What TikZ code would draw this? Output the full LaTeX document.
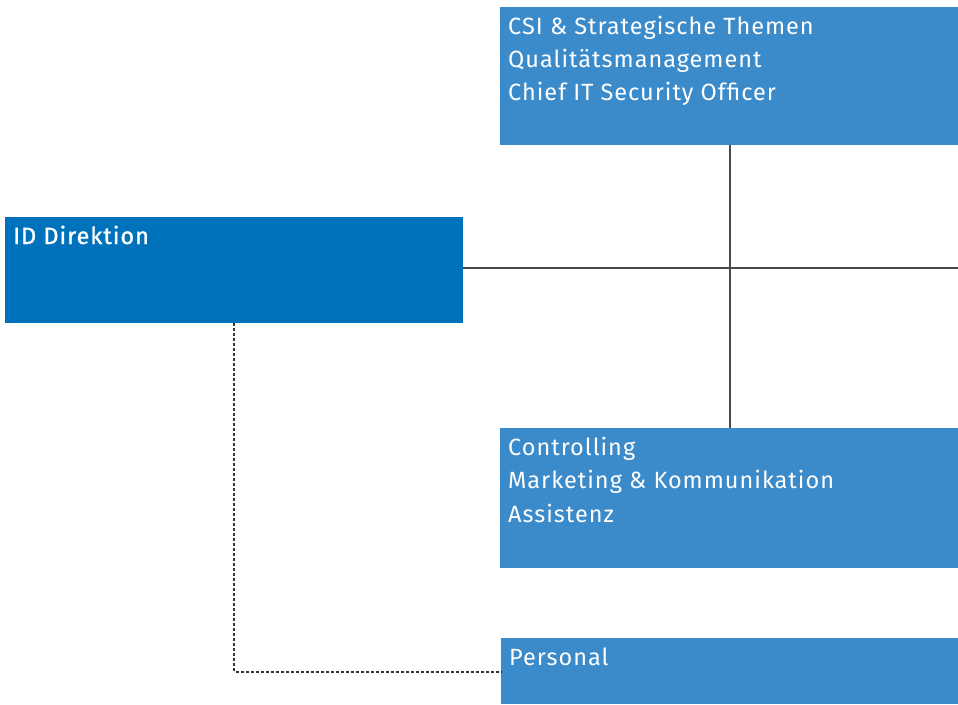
\documentclass[tikz,border=0pt]{standalone}
\usepackage{fontspec}
\setmainfont[LetterSpace=4.2]{Fira Sans}
\newfontfamily\medfont[LetterSpace=4.2,FakeBold=1]{Fira Sans}
\definecolor{dirblue}{HTML}{0072BC}
\definecolor{unitblue}{HTML}{3B8AC9}
\definecolor{linegrey}{HTML}{4A4A4A}
\definecolor{dashgrey}{HTML}{333333}
\begin{document}
\begin{tikzpicture}[x=1pt,y=-1pt,
  box/.style={fill=#1,draw=none,inner sep=0pt,anchor=north west},
  txt/.style={text=white,inner sep=0pt,anchor=base west,font=\fontsize{23.5}{33}\selectfont},
  conn/.style={draw=linegrey,line width=1.5pt},
  dashconn/.style={draw=dashgrey,line width=1.6pt,dash pattern=on 3pt off 2pt}]
\useasboundingbox (0,0) rectangle (958,704);
% boxes
\node[box=dirblue,minimum width=458pt,minimum height=106pt] (dir) at (5,217) {};
\node[box=unitblue,minimum width=458pt,minimum height=138pt] (top) at (500,7) {};
\node[box=unitblue,minimum width=458pt,minimum height=140pt] (mid) at (500,428) {};
\node[box=unitblue,minimum width=457pt,minimum height=66pt] (pers) at (501,638) {};
% texts
\node[txt,font=\fontsize{23.5}{33}\medfont] (tdir) at (13,244) {ID Direktion};
\node[txt] (t1) at (508,34) {CSI \& Strategische Themen};
\node[txt] (t2) at (508,67) {Qualitätsmanagement};
\node[txt] (t3) at (508,100.5) {Chief IT Security Officer};
\node[txt] (m1) at (508,455) {Controlling};
\node[txt] (m2) at (508,488) {Marketing \& Kommunikation};
\node[txt] (m3) at (508,522) {Assistenz};
\node[txt] (p1) at (509,665) {Personal};
% connectors
\coordinate (rightend) at (958,268);
\coordinate (cross) at (730,268);
\draw[conn] (dir.east |- rightend) -- (rightend);
\draw[conn] (top.south -| cross) -- (mid.north -| cross);
\draw[dashconn] (dir.south) |- (pers.west |- 0,672);
\end{tikzpicture}
\end{document}
